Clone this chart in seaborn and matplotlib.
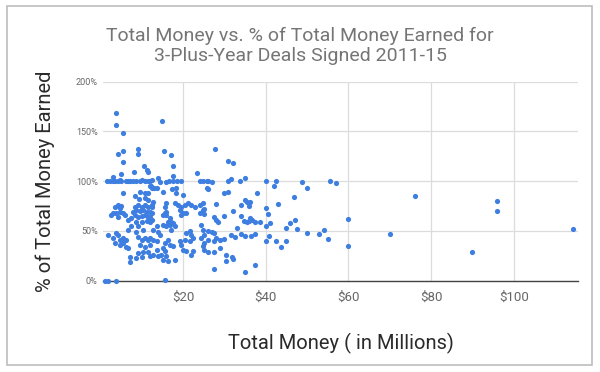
import matplotlib
matplotlib.use("Agg")
import matplotlib.pyplot as plt
import seaborn as sns
import pandas as pd
from matplotlib.patches import Rectangle
from matplotlib.ticker import FuncFormatter

# (total money in $M, % of total money earned)
deals_over_100 = [
    (3.9, 169), (3.8, 156), (5.5, 148), (15.0, 161), (4.2, 127), (5.4, 130),
    (5.4, 119), (9.1, 132), (9.1, 127), (15.5, 130), (17.0, 126), (17.5, 115),
    (10.6, 115), (11.2, 111), (11.6, 109.5), (5.0, 107), (8.2, 109), (3.1, 104),
    (27.7, 132), (31.0, 120), (32.0, 118), (23.5, 108.6), (17.5, 105),
    (35.0, 103), (31.7, 102), (14.0, 103),
]
deals_at_100 = [
    (1.5, 100), (2.3, 100), (3.1, 100), (3.5, 100), (4.3, 100), (4.7, 101),
    (5.1, 100), (6.3, 100), (6.7, 100), (7.1, 100), (7.9, 100), (8.7, 100),
    (9.5, 100), (10.0, 101), (10.8, 100), (11.6, 100), (12.0, 100), (12.4, 101),
    (14.4, 99.5), (16.0, 99.5), (16.5, 100), (17.5, 100), (18.5, 100),
    (19.5, 100), (24.0, 100), (24.8, 100), (25.7, 100), (26.0, 100.5),
    (27.0, 99.5), (31.0, 100), (33.7, 100), (40.0, 100), (42.6, 100),
    (48.7, 99), (55.5, 100), (57.0, 98.5),
]
deals_85_100 = [
    (12.0, 95), (12.3, 95), (12.9, 93), (13.7, 93), (17.4, 92), (25.8, 93),
    (26.0, 92), (12.4, 93), (15.2, 89), (18.4, 93), (18.4, 88), (20.0, 86),
    (5.5, 88), (8.3, 85), (9.5, 89.5), (10.8, 88), (11.6, 88.5), (30.0, 88),
    (31.0, 89), (38.0, 88), (41.9, 95), (50.0, 93), (46.8, 84), (76.0, 85.5),
    (43.1, 77), (28.0, 77),
]
deals_60_85 = [
    (9.3, 82), (10.8, 83), (11.6, 81), (12.8, 79), (12.4, 76), (16.0, 78),
    (15.6, 74), (16.0, 69), (15.6, 68), (18.0, 78), (18.8, 76), (19.6, 74),
    (20.4, 76), (21.2, 78), (22.0, 76), (22.8, 74), (24.0, 76), (24.8, 78),
    (19.2, 71), (20.0, 68), (20.8, 68), (19.6, 66), (24.0, 68), (24.8, 71),
    (15.2, 66), (16.0, 66), (12.0, 64.5), (12.4, 61), (16.8, 63),
    (4.3, 76), (3.5, 74), (4.7, 73), (5.1, 75), (3.1, 68), (2.7, 66),
    (3.9, 68), (4.7, 69.5), (5.5, 68), (5.9, 66), (4.3, 64.5),
    (8.3, 74.5), (9.1, 76), (10.0, 74.5), (10.8, 76), (11.6, 74.5),
    (12.4, 74.5), (7.9, 69.5), (8.7, 71), (9.5, 70), (10.3, 71), (11.2, 69.5),
    (12.0, 69.5), (8.3, 66), (9.1, 64.5), (10.0, 65), (10.8, 66), (11.6, 64.5),
    (12.4, 68), (8.7, 59.5), (10.0, 59.5), (11.2, 60.5), (12.0, 59.5),
    (7.5, 63), (6.7, 61),
    (25.0, 72), (25.0, 67), (30.0, 65), (34.0, 76), (35.0, 81), (35.6, 79),
    (36.0, 75), (32.0, 70), (27.5, 64), (28.0, 61), (28.5, 59), (34.0, 65),
    (34.8, 60), (35.5, 59), (36.0, 60), (37.5, 59), (36.1, 79), (36.1, 63),
    (40.0, 73), (40.6, 67), (60.0, 62), (95.9, 80), (95.9, 70), (47.0, 61),
    (41.0, 58), (46.0, 58), (38.7, 59), (36.8, 61),
]
deals_40_60 = [
    (9.1, 54.5), (7.5, 54.5), (10.3, 51), (6.7, 51), (8.7, 49), (3.9, 47.6),
    (4.3, 46), (1.9, 46), (3.1, 42.6), (4.7, 41), (5.5, 42.6), (6.3, 41),
    (9.1, 44), (10.0, 41), (10.8, 42.6), (11.6, 41),
    (16.4, 59), (17.2, 59), (17.6, 57.5), (16.8, 56), (16.0, 54.5), (15.2, 56),
    (18.0, 54.5), (17.2, 51), (13.6, 54.5), (12.8, 51), (14.0, 49), (14.4, 46),
    (12.0, 43), (12.8, 41), (21.6, 49.5), (20.8, 48), (22.0, 46), (20.4, 41),
    (22.4, 43), (24.4, 56), (24.8, 51), (25.2, 46), (24.4, 43), (16.4, 41),
    (33.0, 53), (26.0, 50), (27.0, 49), (27.5, 48), (26.0, 41), (27.5, 40),
    (28.0, 42.5), (29.0, 41), (30.0, 42), (31.7, 46), (32.5, 44), (34.0, 47),
    (35.0, 45), (36.5, 45), (37.5, 47),
    (40.0, 55), (40.8, 45), (45.0, 53), (47.6, 52), (50.0, 48), (53.0, 47),
    (54.0, 51), (55.0, 42), (70.0, 47), (114.3, 52), (40.0, 40), (42.6, 40),
    (45.0, 40),
]
deals_under_40 = [
    (3.5, 37.6), (4.7, 36), (5.5, 37.6), (6.3, 34), (6.7, 32.6), (9.5, 36),
    (10.8, 34), (12.0, 36), (10.3, 29), (11.6, 29), (9.1, 27.5), (10.0, 24),
    (8.7, 22.5), (7.1, 24), (7.1, 19), (13.6, 39.5), (15.6, 38), (16.8, 36),
    (17.6, 34.5), (15.2, 33), (15.6, 29.5), (14.8, 26), (16.0, 24.5),
    (15.2, 21), (16.4, 19.5), (18.0, 21), (13.6, 31), (12.8, 26), (14.0, 24.5),
    (12.0, 24.5), (20.0, 31), (20.8, 29.5), (22.0, 26), (22.4, 29.5),
    (19.2, 39.5), (19.6, 36), (25.2, 38), (24.8, 34.5), (25.2, 31), (26.0, 29),
    (27.5, 29), (29.0, 33), (30.5, 26), (31.9, 24), (32.0, 21.5), (30.4, 20),
    (21.6, 39.5), (43.8, 34), (60.0, 35), (90.0, 29), (37.3, 16), (27.5, 11.5),
    (35.0, 9),
]
deals_at_0 = [(1.1, 0), (1.9, 0), (3.9, 0), (15.6, 0.5)]

x_ticks = [20, 40, 60, 80, 100]
y_ticks = [0, 50, 100, 150, 200]

title = "Total Money vs. % of Total Money Earned for\n3-Plus-Year Deals Signed 2011-15"
x_label = "Total Money ( in Millions)"
y_label = "% of Total Money Earned"

all_deals = (deals_over_100 + deals_at_100 + deals_85_100 + deals_60_85
             + deals_40_60 + deals_under_40 + deals_at_0)
df = pd.DataFrame(all_deals, columns=["money", "pct"])

sns.set_style("white")
plt.rcParams["font.family"] = ["Roboto", "DejaVu Sans"]

fig = plt.figure(figsize=(6, 3.72), dpi=100)
ax = fig.add_axes([0.172, 0.2454, 0.791, 0.535])

sns.scatterplot(data=df, x="money", y="pct", ax=ax, color="#3d7ee0",
                s=14, linewidth=0, zorder=3, clip_on=False)

ax.set_xlim(0.7, 115.5)
ax.set_ylim(0, 200)
ax.set_xticks(x_ticks)
ax.set_yticks(y_ticks)
ax.xaxis.set_major_formatter(FuncFormatter(lambda v, p: f"${v:.0f}"))
ax.yaxis.set_major_formatter(FuncFormatter(lambda v, p: f"{v:.0f}%"))
ax.tick_params(axis="x", length=0, pad=7, labelsize=9.5, labelcolor="#666666")
ax.tick_params(axis="y", length=0, pad=4, labelsize=6.5, labelcolor="#666666")

ax.grid(True, color="#dcdcdc", linewidth=0.9)
ax.set_axisbelow(True)
for side in ["left", "right", "top"]:
    ax.spines[side].set_visible(False)
ax.spines["bottom"].set_color("#444444")
ax.spines["bottom"].set_linewidth(1.0)

ax.set_xlabel(x_label, fontsize=14.5, color="#2a2a2a", labelpad=21)
ax.set_ylabel(y_label, fontsize=14.5, color="#2a2a2a", labelpad=15)

fig.text(0.5, 0.876, title, ha="center", va="center", fontsize=14,
         color="#757575", linespacing=1.1)

# light frame round the whole chart
fig.patches.append(Rectangle((7 / 600, 7 / 372), 585 / 600, 359 / 372,
                             transform=fig.transFigure, fill=False,
                             edgecolor="#bdbdbd", linewidth=1.2))

fig.savefig("out.png", dpi=100)
